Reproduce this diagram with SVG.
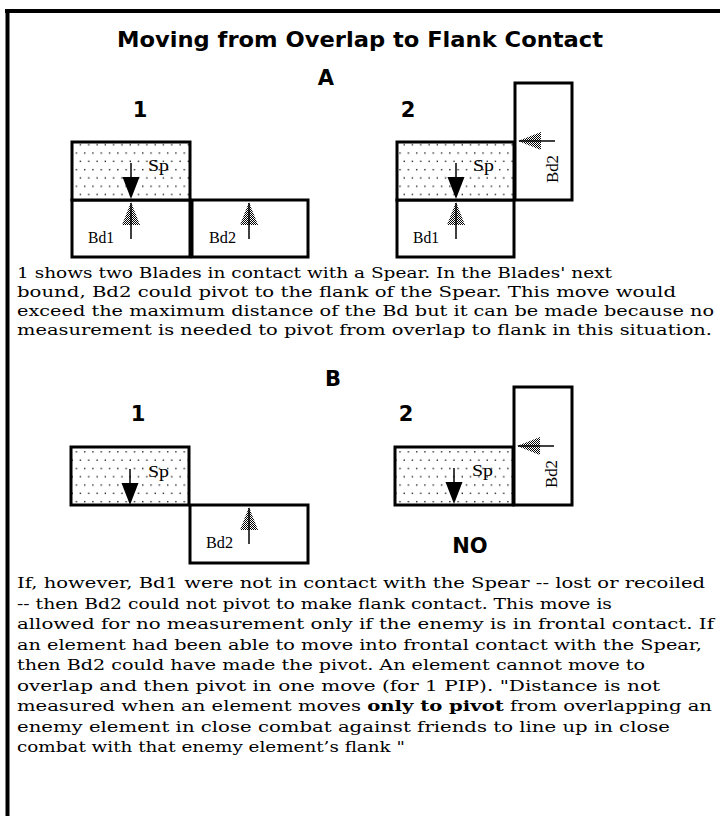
<svg xmlns="http://www.w3.org/2000/svg" width="720" height="816" viewBox="0 0 720 816">
<style>
.box{stroke:#000;stroke-width:3;fill:#fff}
.spf{fill:url(#dots)}
.head{font-family:"DejaVu Sans",sans-serif;font-weight:bold;font-size:21px;fill:#000}
.lbl{font-family:"Liberation Serif",serif;font-size:16px;fill:#000}
.para{font-family:"DejaVu Serif",serif;font-size:15.5px;fill:#000}
.b{font-weight:bold}
</style>
<defs>
<pattern id="dots" width="8.3" height="16.6" patternUnits="userSpaceOnUse">
<rect width="8.3" height="16.6" fill="#fff"/>
<rect x="1" y="3" width="1.3" height="1.3" fill="#000"/>
<rect x="5.15" y="11.3" width="1.3" height="1.3" fill="#000"/>
</pattern>
<pattern id="chk" width="2" height="2" patternUnits="userSpaceOnUse">
<rect width="2" height="2" fill="#fff"/>
<rect width="1" height="1" fill="#000"/>
<rect x="1" y="1" width="1" height="1" fill="#000"/>
</pattern>
<g id="tree">
<polygon points="0,0 9,23 -9,23" fill="url(#chk)"/>
<line x1="0" y1="1" x2="0" y2="37" stroke="#000" stroke-width="1.5"/>
</g>
<g id="spear">
<line x1="0" y1="0" x2="0" y2="18" stroke="#000" stroke-width="1.5"/>
<polygon points="-8.5,14 8.5,14 0,36" fill="#000"/>
</g>
</defs>
<rect width="720" height="816" fill="#fff"/>
<g id="frame">
<line x1="5" y1="11" x2="720" y2="11" stroke="#000" stroke-width="4"/>
<line x1="7.5" y1="9" x2="7.5" y2="816" stroke="#000" stroke-width="4"/>
</g>
<g id="title"><text class="head" x="360" y="47" font-size="20" text-anchor="middle" textLength="486" lengthAdjust="spacingAndGlyphs">Moving from Overlap to Flank Contact</text></g>
<g id="labels">
<text class="head" x="326" y="85" text-anchor="middle">A</text>
<text class="head" x="140" y="117" text-anchor="middle">1</text>
<text class="head" x="408" y="117" text-anchor="middle">2</text>
<text class="head" x="333" y="386" text-anchor="middle">B</text>
<text class="head" x="138" y="421" text-anchor="middle">1</text>
<text class="head" x="406" y="421" text-anchor="middle">2</text>
<text class="head" x="470" y="553" text-anchor="middle">NO</text>
</g>
<g id="a1-bd1"><rect class="box" x="72" y="200" width="118" height="57"/><use href="#tree" x="131" y="202"/><text class="lbl" x="88" y="243" textLength="26" lengthAdjust="spacingAndGlyphs">Bd1</text></g>
<g id="a1-bd2"><rect class="box" x="192" y="200" width="116" height="57"/><use href="#tree" x="249" y="202"/><text class="lbl" x="209" y="243" textLength="27" lengthAdjust="spacingAndGlyphs">Bd2</text></g>
<g id="a1-sp"><rect class="box spf" x="72" y="142" width="118" height="58"/><use href="#spear" x="131" y="163"/><text class="lbl" x="148" y="171" textLength="21" lengthAdjust="spacingAndGlyphs">Sp</text></g>
<g id="a2-bd1"><rect class="box" x="397" y="200" width="117" height="57"/><use href="#tree" x="456" y="202"/><text class="lbl" x="413" y="243" textLength="26" lengthAdjust="spacingAndGlyphs">Bd1</text></g>
<g id="a2-sp"><rect class="box spf" x="397" y="142" width="117" height="58"/><use href="#spear" x="456" y="163"/><text class="lbl" x="473" y="171" textLength="21" lengthAdjust="spacingAndGlyphs">Sp</text></g>
<g id="a2-bd2"><rect class="box" x="515" y="83" width="57" height="117"/><use href="#tree" transform="translate(518,141) rotate(-90)"/><text class="lbl" transform="translate(558,183) rotate(-90)" textLength="28" lengthAdjust="spacingAndGlyphs">Bd2</text></g>
<g id="b1-bd2"><rect class="box" x="190" y="505" width="118" height="58"/><use href="#tree" x="249" y="507"/><text class="lbl" x="206" y="548" textLength="27" lengthAdjust="spacingAndGlyphs">Bd2</text></g>
<g id="b1-sp"><rect class="box spf" x="71" y="447" width="118" height="58"/><use href="#spear" x="130" y="469"/><text class="lbl" x="148" y="477" textLength="21" lengthAdjust="spacingAndGlyphs">Sp</text></g>
<g id="b2-sp"><rect class="box spf" x="395" y="447" width="118" height="58"/><use href="#spear" x="454" y="468"/><text class="lbl" x="472" y="476" textLength="21" lengthAdjust="spacingAndGlyphs">Sp</text></g>
<g id="b2-bd2"><rect class="box" x="514" y="387" width="58" height="118"/><use href="#tree" transform="translate(517,446) rotate(-90)"/><text class="lbl" transform="translate(557,488) rotate(-90)" textLength="28" lengthAdjust="spacingAndGlyphs">Bd2</text></g>
<g id="para1" class="para" xml:space="preserve">
<text x="17" y="278" textLength="595" lengthAdjust="spacingAndGlyphs">1 shows two Blades in contact with a Spear.  In the Blades' next</text>
<text x="17" y="297" textLength="659" lengthAdjust="spacingAndGlyphs">bound, Bd2 could pivot to the flank of the Spear.  This move would</text>
<text x="17" y="316" textLength="697" lengthAdjust="spacingAndGlyphs">exceed the maximum distance of the Bd but it can be made because no</text>
<text x="17" y="335" textLength="695" lengthAdjust="spacingAndGlyphs">measurement is needed to pivot from overlap to flank in this situation.</text>
</g>
<g id="para2" class="para" xml:space="preserve">
<text x="17" y="588" textLength="688" lengthAdjust="spacingAndGlyphs">If, however, Bd1 were not in contact with the Spear -- lost or recoiled</text>
<text x="17" y="608.5" textLength="595" lengthAdjust="spacingAndGlyphs">-- then Bd2 could not pivot to make flank contact.  This move is</text>
<text x="17" y="629" textLength="697" lengthAdjust="spacingAndGlyphs">allowed for no measurement only if the enemy is in frontal contact.  If</text>
<text x="17" y="649.5" textLength="685" lengthAdjust="spacingAndGlyphs">an element had been able to move into frontal contact with the Spear,</text>
<text x="17" y="670" textLength="628" lengthAdjust="spacingAndGlyphs">then Bd2 could have made the pivot.  An element cannot move to</text>
<text x="17" y="690.5" textLength="643" lengthAdjust="spacingAndGlyphs">overlap and then pivot in one move (for 1 PIP).   "Distance is not</text>
<text x="17" y="711" textLength="695" lengthAdjust="spacingAndGlyphs">measured when an element moves <tspan class="b">only to pivot</tspan> from overlapping an</text>
<text x="17" y="731.5" textLength="653" lengthAdjust="spacingAndGlyphs">enemy element in close combat against friends to line up in close</text>
<text x="17" y="752" textLength="388" lengthAdjust="spacingAndGlyphs">combat with that enemy element’s flank "</text>
</g>
</svg>
